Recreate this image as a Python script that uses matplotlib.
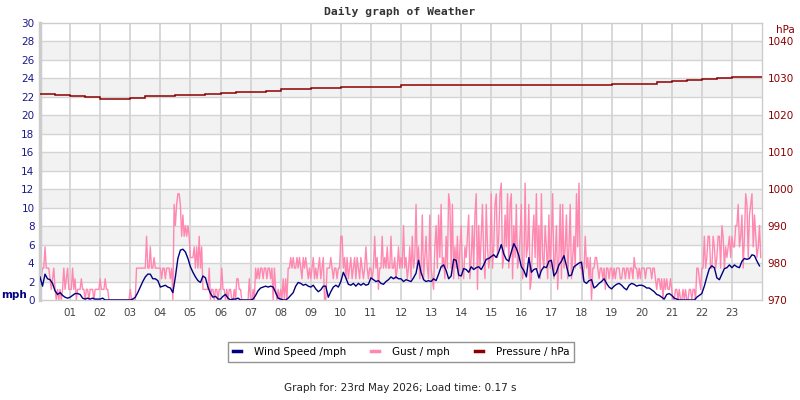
import numpy as np
import matplotlib
matplotlib.use("Agg")
import matplotlib.pyplot as plt
from matplotlib.lines import Line2D

# ---------------- data ----------------
# wind speed, 5-minute samples (12 per hour), mph
WIND_MPH = [
    2.5, 1.5, 2.8, 2.3, 2.2, 1.8, 1.0, 0.6, 0.8, 0.5, 0.3, 0.2,   # 00
    0.3, 0.5, 0.7, 0.7, 0.6, 0.2, 0.1, 0.2, 0.1, 0.2, 0.1, 0.1,   # 01
    0.1, 0.2, 0.0, 0.0, 0.0, 0.0, 0.0, 0.0, 0.0, 0.0, 0.0, 0.0,   # 02
    0.0, 0.1, 0.3, 0.8, 1.4, 2.0, 2.5, 2.8, 2.8, 2.3, 2.3, 2.1,   # 03
    1.4, 1.5, 1.6, 1.4, 1.3, 0.8, 2.5, 4.5, 5.4, 5.5, 5.2, 4.5,   # 04
    3.6, 3.0, 2.5, 2.1, 1.9, 2.6, 2.4, 1.4, 0.7, 0.3, 0.4, 0.1,   # 05
    0.1, 0.4, 0.6, 0.2, 0.0, 0.1, 0.1, 0.2, 0.0, 0.0, 0.0, 0.0,   # 06
    0.0, 0.1, 0.5, 1.0, 1.3, 1.4, 1.5, 1.4, 1.5, 1.4, 0.8, 0.2,   # 07
    0.1, 0.0, 0.0, 0.2, 0.5, 0.8, 1.5, 1.9, 1.8, 1.6, 1.7, 1.5,   # 08
    1.4, 1.6, 1.2, 0.9, 1.1, 1.5, 1.5, 0.3, 0.9, 1.4, 1.6, 1.4,   # 09
    2.0, 3.0, 2.4, 1.7, 1.6, 1.8, 1.5, 1.8, 1.6, 1.8, 1.6, 1.7,   # 10
    2.4, 2.2, 2.0, 2.1, 1.8, 1.7, 2.0, 2.2, 2.5, 2.3, 2.5, 2.3,   # 11
    2.3, 2.0, 2.2, 2.1, 2.0, 2.4, 2.9, 4.3, 3.0, 2.2, 2.0, 2.1,   # 12
    2.0, 2.3, 2.1, 2.8, 3.6, 3.8, 3.2, 2.3, 2.6, 4.4, 4.3, 2.7,   # 13
    2.6, 3.4, 3.3, 3.0, 3.6, 3.3, 3.5, 3.6, 3.3, 3.8, 4.4, 4.5,   # 14
    4.7, 4.9, 4.6, 5.2, 6.0, 5.0, 4.4, 4.2, 5.2, 6.1, 5.6, 4.8,   # 15
    3.6, 3.2, 2.5, 4.6, 3.0, 3.3, 3.4, 2.4, 3.2, 3.6, 3.5, 4.2,   # 16
    4.3, 2.6, 3.0, 3.8, 4.2, 4.8, 3.7, 2.6, 2.7, 3.6, 3.8, 4.0,   # 17
    4.1, 2.0, 1.8, 2.1, 2.2, 1.3, 1.5, 1.8, 2.0, 2.3, 1.8, 1.4,   # 18
    1.2, 1.5, 1.7, 1.8, 1.6, 1.3, 1.1, 1.6, 1.8, 1.7, 1.5, 1.6,   # 19
    1.6, 1.5, 1.3, 1.3, 1.1, 0.9, 0.6, 0.5, 0.3, 0.1, 0.6, 0.7,   # 20
    0.5, 0.2, 0.1, 0.0, 0.0, 0.0, 0.0, 0.0, 0.0, 0.0, 0.3, 0.5,   # 21
    0.7, 1.5, 2.5, 3.4, 3.7, 3.5, 2.4, 2.2, 2.8, 3.4, 3.5, 3.8,   # 22
    3.5, 3.8, 3.6, 3.5, 4.2, 4.5, 4.4, 4.5, 4.9, 4.8, 4.2, 3.7,   # 23
]

# gusts, 2.5-minute samples (24 per hour), reported in whole knots
GUST_KT = [
    3, 2, 3, 3, 5, 3, 3, 3, 2, 1, 2, 3, 1, 0, 1, 0, 1, 0, 1, 3, 1, 2, 3, 1,          # 00
    1, 1, 3, 1, 2, 0, 1, 1, 1, 2, 1, 1, 0, 1, 1, 0, 1, 1, 1, 0, 1, 1, 1, 1,          # 01
    2, 1, 1, 1, 2, 1, 1, 0, 0, 0, 0, 0, 0, 0, 0, 0, 0, 0, 0, 0, 0, 0, 0, 0,          # 02
    1, 0, 0, 0, 0, 3, 3, 3, 3, 3, 3, 3, 3, 6, 3, 3, 5, 3, 3, 4, 3, 3, 3, 3,          # 03
    3, 2, 3, 3, 2, 3, 3, 3, 2, 3, 0, 9, 7, 9, 10, 10, 9, 6, 8, 6, 7, 6, 7, 6,        # 04
    4, 4, 4, 5, 3, 5, 3, 6, 3, 5, 1, 1, 1, 1, 1, 3, 0, 1, 1, 0, 1, 1, 0, 1,          # 05
    1, 3, 1, 1, 0, 1, 0, 1, 1, 0, 0, 1, 0, 2, 2, 1, 1, 0, 0, 0, 0, 0, 0, 2,          # 06
    0, 0, 1, 0, 3, 2, 3, 2, 3, 3, 2, 3, 3, 2, 3, 3, 2, 3, 0, 3, 1, 0, 1, 0,          # 07
    1, 0, 2, 0, 2, 0, 3, 3, 4, 3, 4, 3, 3, 4, 3, 4, 3, 2, 4, 3, 4, 3, 2, 3,          # 08
    2, 3, 4, 2, 3, 2, 3, 4, 2, 3, 4, 0, 0, 3, 3, 3, 4, 3, 2, 3, 3, 2, 3, 3,          # 09
    6, 6, 3, 4, 2, 4, 2, 3, 4, 2, 3, 4, 2, 4, 3, 2, 4, 3, 2, 3, 5, 3, 2, 3,          # 10
    3, 2, 3, 6, 3, 4, 1, 3, 3, 6, 3, 4, 3, 5, 3, 3, 6, 3, 3, 4, 2, 3, 5, 3,          # 11
    4, 3, 7, 3, 4, 2, 3, 5, 2, 6, 3, 4, 9, 3, 5, 2, 3, 8, 2, 4, 6, 3, 2, 8,          # 12
    3, 2, 1, 5, 7, 3, 8, 4, 9, 3, 4, 2, 6, 3, 10, 9, 3, 9, 2, 5, 3, 6, 2, 5,         # 13
    7, 3, 2, 5, 4, 6, 8, 2, 4, 7, 3, 8, 10, 1, 7, 3, 6, 9, 4, 2, 9, 5, 3, 4,         # 14
    10, 3, 5, 9, 10, 4, 6, 10, 11, 3, 4, 8, 5, 10, 3, 9, 10, 2, 7, 4, 9, 3, 4, 6,    # 15
    9, 2, 3, 11, 4, 5, 9, 1, 2, 6, 8, 4, 10, 3, 7, 2, 10, 4, 3, 7, 5, 2, 8, 3,       # 16
    6, 10, 2, 4, 7, 1, 4, 9, 2, 9, 3, 5, 8, 2, 5, 9, 2, 4, 6, 3, 10, 5, 11, 3,       # 17
    3, 2, 3, 6, 3, 4, 2, 4, 0, 3, 3, 4, 4, 3, 2, 3, 3, 2, 3, 1, 3, 3, 2, 3,          # 18
    3, 2, 3, 2, 3, 3, 3, 2, 2, 3, 3, 2, 3, 3, 2, 3, 3, 2, 4, 3, 3, 2, 3, 2,          # 19
    3, 3, 3, 2, 3, 3, 3, 3, 2, 3, 3, 2, 1, 2, 2, 1, 2, 0, 2, 1, 2, 1, 1, 2,          # 20
    1, 0, 0, 1, 1, 0, 1, 0, 0, 1, 0, 1, 0, 0, 1, 1, 0, 1, 1, 0, 3, 3, 2, 1,          # 21
    3, 3, 6, 3, 4, 6, 6, 3, 3, 6, 5, 3, 4, 6, 6, 3, 7, 6, 3, 5, 4, 5, 6, 4,          # 22
    6, 5, 5, 7, 7, 9, 5, 6, 8, 3, 6, 10, 9, 4, 8, 9, 10, 5, 8, 6, 4, 5, 7, 4,        # 23
]
KT_TO_MPH = 1.15078

# pressure, half-hourly (hPa)
PRESSURE_HPA = [
    1025.8, 1025.5, 1025.1, 1025.0, 1024.5, 1024.5, 1024.8, 1025.1,
    1025.3, 1025.6, 1025.6, 1025.8, 1026.0, 1026.2, 1026.3, 1026.7,
    1027.0, 1027.2, 1027.5, 1027.5, 1027.7, 1027.7, 1027.7, 1027.8,
    1028.1, 1028.1, 1028.1, 1028.3, 1028.3, 1028.3, 1028.3, 1028.3,
    1028.3, 1028.3, 1028.3, 1028.3, 1028.3, 1028.3, 1028.6, 1028.6,
    1028.6, 1028.9, 1029.4, 1029.7, 1029.9, 1030.2, 1030.4, 1030.4,
]

HOUR_LABELS = ["%02d" % h for h in range(1, 24)]
TITLE = "Daily graph of Weather"
FOOTER = "Graph for: 23rd May 2026; Load time: 0.17 s"

# ---------------- styling ----------------
NAVY = "#000080"
PINK = "#ff88b0"
DRED = "#8b0000"
LBL_BLUE = "#1a1a8a"
GRID = "#d4d4d4"
BAND = "#f2f2f2"

fig = plt.figure(figsize=(8, 4), dpi=100)
ax = fig.add_axes([40 / 800, 1 - 300 / 400, 722 / 800, 277 / 400])

wind = np.array(WIND_MPH)
gust = np.array(GUST_KT) * KT_TO_MPH
t_wind = np.arange(len(wind)) * 24.0 / len(wind)
t_gust = np.arange(len(gust)) * 24.0 / len(gust)
p_edges = np.arange(len(PRESSURE_HPA) + 1) * 24.0 / len(PRESSURE_HPA)

ax.set_xlim(0, 24)
ax.set_ylim(0, 30)

# alternating bands and grid
for lo in range(2, 30, 4):
    ax.axhspan(lo, lo + 2, color=BAND, lw=0, zorder=0)
for y in range(2, 30, 2):
    ax.axhline(y, color=GRID, lw=1.0, zorder=0.5)
for h in range(1, 24):
    ax.axvline(h, color=GRID, lw=1.3, zorder=0.5)

ax.plot(t_gust, gust, color=PINK, lw=1.0, zorder=2)
ax.plot(t_wind, wind, color=NAVY, lw=1.0, zorder=3)

ax.set_yticks(range(0, 31, 2))
ax.set_yticklabels([str(v) for v in range(0, 31, 2)])
ax.set_xticks(range(1, 24))
ax.set_xticklabels(HOUR_LABELS)
ax.tick_params(axis="y", length=0, pad=4, labelsize=7.5, labelcolor=LBL_BLUE)
ax.tick_params(axis="x", length=0, pad=6, labelsize=7.5, labelcolor="#444444")

for side in ["top", "right", "bottom"]:
    ax.spines[side].set_color("#cccccc")
    ax.spines[side].set_linewidth(1.0)
ax.spines["left"].set_color("#cccccc")
ax.spines["left"].set_linewidth(2.5)

ax2 = ax.twinx()
ax2.set_ylim(970, 1045)
ax2.stairs(PRESSURE_HPA, p_edges, baseline=None, color=DRED, lw=1.1, zorder=4)
ax2.set_yticks(range(970, 1041, 10))
ax2.tick_params(axis="y", length=0, pad=4, labelsize=7.5, labelcolor=DRED)
for s in ax2.spines.values():
    s.set_visible(False)

fig.text(400 / 800, 1 - 12 / 400, TITLE, ha="center", va="center",
         family="DejaVu Sans Mono", weight="bold", fontsize=8.2, color="#333333")
fig.text(1 / 800, 1 - 295 / 400, "mph", ha="left", va="center",
         weight="bold", fontsize=7.5, color=NAVY)
fig.text(795 / 800, 1 - 30 / 400, "hPa", ha="right", va="center",
         fontsize=7.5, color=DRED)

handles = [Line2D([], [], color=NAVY, lw=2.5),
           Line2D([], [], color=PINK, lw=2.5),
           Line2D([], [], color=DRED, lw=2.5)]
leg = fig.legend(handles, ["Wind Speed /mph", "Gust / mph", "Pressure / hPa"],
                 loc="center", bbox_to_anchor=(401 / 800, 1 - 352 / 400), ncol=3,
                 fontsize=7.5, frameon=True, fancybox=False, handlelength=0.8,
                 handletextpad=1.2, columnspacing=2.4, borderpad=0.5)
leg.get_frame().set_edgecolor("#777777")
leg.get_frame().set_linewidth(1.0)

fig.text(400 / 800, 1 - 388 / 400, FOOTER, ha="center", va="center",
         fontsize=7.5, color="#222222")

fig.savefig("out.png", dpi=100)
